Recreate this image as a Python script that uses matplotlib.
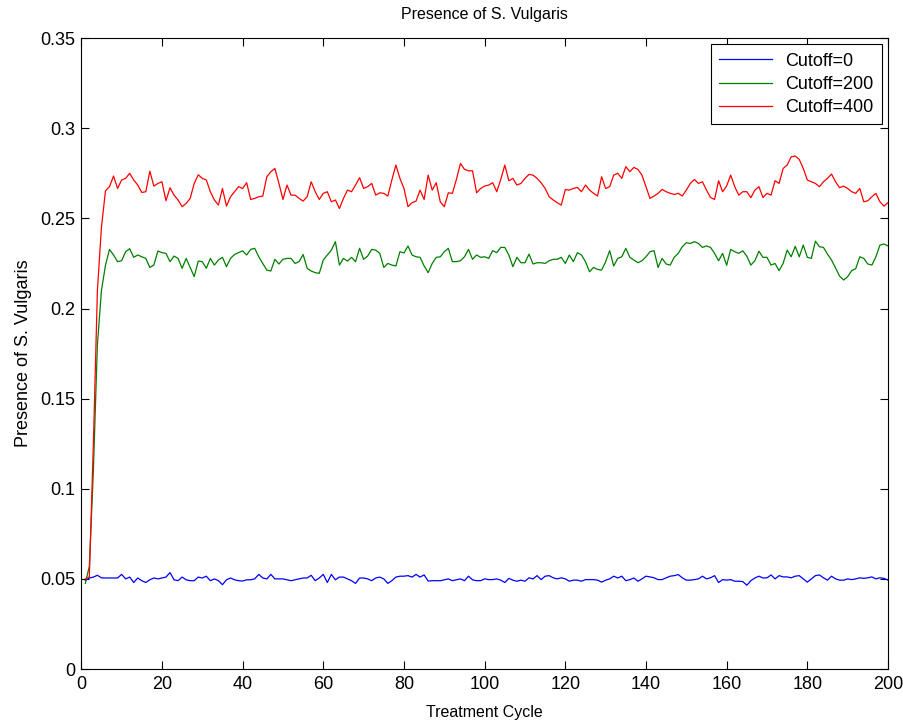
import matplotlib
matplotlib.use("Agg")
import matplotlib.pyplot as plt
import numpy as np

plt.rcParams['font.family'] = ['Liberation Sans', 'DejaVu Sans']

# treatment cycles 1..200
cycles = np.arange(1, 201)

cutoff_0 = [
    0.049, 0.0505, 0.051, 0.052, 0.0506, 0.0505, 0.0505, 0.0505, 0.0505, 0.0525,
    0.050, 0.051, 0.048, 0.0505, 0.049, 0.048, 0.0495, 0.0505, 0.050, 0.0505,
    0.051, 0.0535, 0.0495, 0.049, 0.051, 0.0495, 0.049, 0.049, 0.051, 0.0505,
    0.0515, 0.049, 0.050, 0.049, 0.0468, 0.0495, 0.0505, 0.0495, 0.049, 0.0488,
    0.0495, 0.0495, 0.050, 0.0525, 0.0505, 0.050, 0.0525, 0.050, 0.050, 0.050,
    0.0495, 0.049, 0.0495, 0.050, 0.0505, 0.0505, 0.052, 0.049, 0.0505, 0.0525,
    0.048, 0.0525, 0.0495, 0.051, 0.051, 0.050, 0.049, 0.0475, 0.0505, 0.0505,
    0.050, 0.049, 0.0505, 0.051, 0.050, 0.0475, 0.049, 0.051, 0.0515, 0.0515,
    0.0518, 0.051, 0.0525, 0.051, 0.0522, 0.0488, 0.049, 0.049, 0.049, 0.0495,
    0.050, 0.049, 0.0495, 0.050, 0.049, 0.0515, 0.0495, 0.049, 0.049, 0.050,
    0.0496, 0.0496, 0.050, 0.0493, 0.048, 0.0503, 0.0493, 0.0487, 0.0493, 0.0487,
    0.0506, 0.050, 0.0518, 0.0496, 0.0515, 0.0518, 0.0506, 0.050, 0.0506, 0.050,
    0.0487, 0.0493, 0.0493, 0.0487, 0.0496, 0.0496, 0.0496, 0.0493, 0.0482, 0.0493,
    0.050, 0.0515, 0.0505, 0.0515, 0.049, 0.0496, 0.0505, 0.0487, 0.050, 0.0515,
    0.0511, 0.0506, 0.0496, 0.0496, 0.0506, 0.0515, 0.0518, 0.0524, 0.0506, 0.0493,
    0.0493, 0.0496, 0.050, 0.0515, 0.050, 0.0506, 0.0518, 0.048, 0.0496, 0.0493,
    0.0496, 0.0487, 0.0487, 0.0485, 0.0465, 0.049, 0.0505, 0.0515, 0.0505, 0.0506,
    0.0522, 0.050, 0.0518, 0.0511, 0.0511, 0.0506, 0.0515, 0.0518, 0.050, 0.0482,
    0.050, 0.0518, 0.0522, 0.0506, 0.0493, 0.0515, 0.050, 0.0493, 0.0493, 0.050,
    0.0496, 0.050, 0.0506, 0.0503, 0.0506, 0.0511, 0.050, 0.0506, 0.0503, 0.0493,
]

cutoff_200 = [
    0.0475, 0.057, 0.11, 0.18, 0.21, 0.224, 0.2328, 0.2297, 0.2260, 0.2265,
    0.2315, 0.2332, 0.2284, 0.2297, 0.2287, 0.2278, 0.2228, 0.2241, 0.2319, 0.2310,
    0.2306, 0.2260, 0.2291, 0.2278, 0.2223, 0.2278, 0.2228, 0.2177, 0.2263, 0.2260,
    0.2223, 0.2278, 0.2241, 0.2269, 0.2284, 0.2232, 0.2278, 0.2300, 0.2310, 0.2320,
    0.2297, 0.2328, 0.2334, 0.2287, 0.2250, 0.2213, 0.2208, 0.2273, 0.2247, 0.2273,
    0.2278, 0.2278, 0.2250, 0.2260, 0.2300, 0.2223, 0.2208, 0.2199, 0.2195, 0.2269,
    0.2297, 0.2324, 0.2371, 0.2241, 0.2278, 0.2263, 0.2284, 0.2260, 0.2334, 0.2273,
    0.2291, 0.2328, 0.2324, 0.2306, 0.2228, 0.2250, 0.2241, 0.2236, 0.2315, 0.2308,
    0.2347, 0.2297, 0.2287, 0.2284, 0.2236, 0.2199, 0.2250, 0.2284, 0.2287, 0.2315,
    0.2334, 0.2260, 0.2260, 0.2265, 0.2287, 0.2328, 0.2273, 0.2297, 0.2284, 0.2287,
    0.2278, 0.2321, 0.2310, 0.2339, 0.2339, 0.2297, 0.2232, 0.2284, 0.2254, 0.2254,
    0.2302, 0.2247, 0.2254, 0.2254, 0.2250, 0.2265, 0.2273, 0.2273, 0.2284, 0.2250,
    0.2297, 0.2260, 0.2310, 0.2297, 0.2260, 0.2204, 0.2228, 0.2217, 0.2213, 0.2260,
    0.2321, 0.2236, 0.2278, 0.2287, 0.2334, 0.2284, 0.2269, 0.2254, 0.2265, 0.2287,
    0.2315, 0.2321, 0.2228, 0.2278, 0.2247, 0.2241, 0.2284, 0.2306, 0.2343, 0.2365,
    0.2361, 0.2371, 0.2361, 0.2339, 0.2347, 0.2339, 0.2306, 0.2265, 0.2306, 0.2240,
    0.2328, 0.2315, 0.2306, 0.2320, 0.2290, 0.2241, 0.2265, 0.2318, 0.2284, 0.2284,
    0.2241, 0.2250, 0.2210, 0.2250, 0.2324, 0.2287, 0.2345, 0.2287, 0.2352, 0.2284,
    0.2278, 0.2374, 0.2343, 0.2339, 0.2302, 0.2269, 0.2224, 0.2180, 0.2158, 0.2177,
    0.2210, 0.2221, 0.2287, 0.2278, 0.2247, 0.2241, 0.2287, 0.2352, 0.2358, 0.2347,
]

cutoff_400 = [
    0.050, 0.051, 0.125, 0.21, 0.245, 0.2653, 0.2676, 0.2735, 0.2666, 0.2713,
    0.2722, 0.2750, 0.2713, 0.2685, 0.2644, 0.2648, 0.2762, 0.2679, 0.2694, 0.2703,
    0.2598, 0.2670, 0.2629, 0.2602, 0.2565, 0.2583, 0.2611, 0.2694, 0.2742, 0.2722,
    0.2713, 0.2648, 0.2602, 0.2574, 0.2666, 0.2568, 0.2620, 0.2648, 0.2676, 0.2666,
    0.2698, 0.2605, 0.2611, 0.2620, 0.2624, 0.2731, 0.2759, 0.2777, 0.2694, 0.2605,
    0.2685, 0.2629, 0.2629, 0.2611, 0.2596, 0.2620, 0.2703, 0.2648, 0.2605, 0.2639,
    0.2648, 0.2592, 0.2602, 0.2555, 0.2611, 0.2657, 0.2648, 0.2685, 0.2726, 0.2666,
    0.2676, 0.2694, 0.2629, 0.2642, 0.2639, 0.2624, 0.2713, 0.2796, 0.2722, 0.2666,
    0.2565, 0.2587, 0.2596, 0.2657, 0.2605, 0.2740, 0.2657, 0.2698, 0.2592, 0.2565,
    0.2642, 0.2639, 0.2716, 0.2805, 0.2772, 0.2764, 0.2764, 0.2642, 0.2666, 0.2679,
    0.2685, 0.2698, 0.2648, 0.2716, 0.2796, 0.2709, 0.2722, 0.2685, 0.2694, 0.2722,
    0.2744, 0.2740, 0.2722, 0.2698, 0.2666, 0.2620, 0.2602, 0.2587, 0.2574, 0.2660,
    0.2657, 0.2666, 0.2672, 0.2648, 0.2685, 0.2657, 0.2639, 0.2624, 0.2731, 0.2666,
    0.2676, 0.2740, 0.2750, 0.2722, 0.2787, 0.2759, 0.2783, 0.2772, 0.2740, 0.2676,
    0.2611, 0.2624, 0.2639, 0.2661, 0.2648, 0.2639, 0.2633, 0.2639, 0.2624, 0.2657,
    0.2694, 0.2716, 0.2694, 0.2703, 0.2657, 0.2616, 0.2605, 0.2709, 0.2648, 0.2680,
    0.2740, 0.2676, 0.2629, 0.2648, 0.2648, 0.2615, 0.2657, 0.2676, 0.2616, 0.2639,
    0.2629, 0.2709, 0.2694, 0.2777, 0.2796, 0.2842, 0.2846, 0.2827, 0.2777, 0.2713,
    0.2703, 0.2694, 0.2676, 0.2703, 0.2722, 0.2746, 0.2703, 0.2670, 0.2679, 0.2666,
    0.2648, 0.2639, 0.2666, 0.2592, 0.2598, 0.2620, 0.2639, 0.2592, 0.2568, 0.2587,
]

series = [(cutoff_0, "#0000ff", "Cutoff=0"),
          (cutoff_200, "#008000", "Cutoff=200"),
          (cutoff_400, "#ff0000", "Cutoff=400")]

x_ticks = list(range(0, 201, 20))
y_ticks = [0, 0.05, 0.1, 0.15, 0.2, 0.25, 0.3, 0.35]
y_tick_labels = ["0", "0.05", "0.1", "0.15", "0.2", "0.25", "0.3", "0.35"]

fig = plt.figure(figsize=(9.04, 7.21), dpi=100)
ax = fig.add_axes([0.0899, 0.0721, 0.8924, 0.875])

for vals, col, lab in series:
    ax.plot(cycles, vals, color=col, lw=0.9, label=lab)

ax.set_xlim(0, 200)
ax.set_ylim(0, 0.35)
ax.set_xticks(x_ticks)
ax.set_yticks(y_ticks)
ax.set_yticklabels(y_tick_labels)
ax.tick_params(direction="in", length=6, width=0.8, top=True, right=True,
               labelsize=13)
ax.tick_params(axis="x", pad=5)
ax.tick_params(axis="y", pad=4)
for s in ax.spines.values():
    s.set_linewidth(0.8)

ax.set_title("Presence of S. Vulgaris", fontsize=11.5, pad=14)
ax.set_xlabel("Treatment Cycle", fontsize=11.5, labelpad=9)
ax.set_ylabel("Presence of S. Vulgaris", fontsize=13, labelpad=6)

leg = ax.legend(loc="upper right", fontsize=13, fancybox=False,
                framealpha=1, edgecolor="black", handlelength=2.9,
                handletextpad=0.75, labelspacing=0.35, borderaxespad=0.35,
                borderpad=0.45)
leg.get_frame().set_linewidth(0.8)

fig.savefig("out.png", dpi=100, facecolor="white")
